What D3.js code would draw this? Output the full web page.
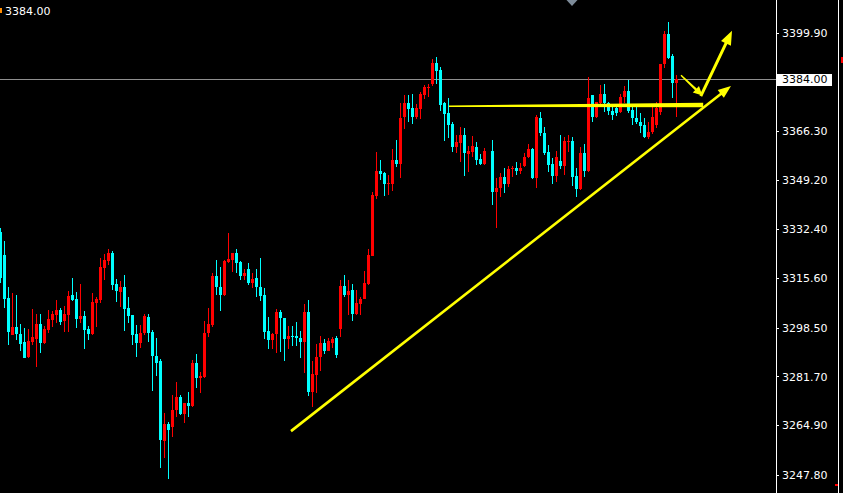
<!DOCTYPE html>
<html><head><meta charset="utf-8">
<script src="https://cdn.jsdelivr.net/npm/d3@7"></script>
<style>
html,body{margin:0;padding:0;background:#000;overflow:hidden;}
svg{display:block;}
</style></head>
<body>
<script>
// ---- data ----
const openVals = [3331.4,3323.5,3308.7,3296.0,3298.7,3296.3,3293.6,3288.4,3293.6,3294.6,3299.8,3293.2,3297.7,3301.1,3302.9,3304.6,3300.8,3302.9,3309.8,3308.4,3301.5,3302.5,3298.0,3296.3,3307.0,3308.0,3319.0,3321.4,3324.2,3313.5,3310.8,3312.5,3305.3,3302.9,3296.3,3293.2,3296.7,3302.2,3297.0,3288.8,3287.0,3259.5,3265.3,3264.3,3270.2,3274.6,3268.8,3272.6,3271.5,3286.3,3281.2,3281.5,3296.7,3299.4,3316.3,3312.5,3309.8,3321.1,3321.8,3324.2,3321.1,3316.3,3318.7,3313.9,3315.6,3312.5,3309.8,3297.4,3294.3,3296.3,3303.9,3301.8,3294.6,3295.6,3295.6,3294.9,3293.6,3303.9,3276.4,3282.2,3288.4,3293.2,3290.5,3293.2,3294.9,3298.0,3312.8,3309.8,3311.5,3303.2,3306.6,3308.4,3313.5,3323.2,3343.9,3352.4,3351.7,3347.9,3347.9,3356.2,3354.8,3371.0,3375.8,3374.1,3371.0,3373.8,3378.6,3381.0,3382.4,3389.6,3387.2,3375.8,3372.4,3368.6,3360.6,3362.1,3364.8,3358.3,3358.9,3360.6,3356.5,3354.8,null,3359.3,3345.2,3346.6,3350.4,3347.9,3353.1,3353.4,3352.4,3354.1,3357.2,3360.0,3350.0,3370.7,3365.5,3358.9,3354.8,3350.7,3355.9,3354.1,3362.4,3362.7,3350.7,3346.2,3358.6,3352.4,3378.6,3371.0,3375.8,3378.9,3375.8,3373.1,3374.1,3372.7,3377.9,3379.9,3373.4,3370.7,3369.3,3368.2,3364.1,3365.8,3368.2,3372.7,3389.2,3399.6,3392.0,3382.7];
const highVals = [3332.8,3328.3,3312.5,3310.4,3309.8,3299.8,3298.4,3298.0,3304.9,3303.2,3303.2,3299.1,3304.6,3304.2,3308.0,3305.3,3305.9,3311.1,3315.6,3310.8,3313.5,3304.2,3299.1,3310.4,3309.1,3322.5,3323.9,3325.6,3324.9,3315.3,3314.6,3316.6,3309.1,3302.9,3299.4,3299.4,3303.2,3303.2,3297.7,3294.9,3287.7,3269.1,3266.0,3275.3,3279.8,3275.3,3272.6,3276.4,3287.4,3289.4,3283.2,3300.8,3305.3,3317.3,3321.8,3319.4,3321.8,3331.1,3324.2,3325.6,3321.4,3318.7,3320.8,3317.3,3318.7,3322.5,3312.1,3302.2,3296.7,3304.9,3304.6,3301.8,3299.1,3299.1,3300.4,3297.4,3306.6,3308.0,3287.0,3292.9,3295.6,3294.6,3294.9,3295.3,3295.6,3314.9,3316.6,3314.9,3313.5,3311.5,3309.1,3318.0,3325.6,3345.2,3359.0,3356.2,3352.1,3351.0,3360.0,3363.1,3375.8,3378.6,3378.6,3378.9,3375.5,3379.6,3382.0,3382.4,3390.9,3391.6,3388.2,3376.2,3377.5,3369.3,3364.8,3367.6,3367.2,3361.0,3364.5,3362.4,3358.3,3360.3,null,3363.1,3350.0,3351.7,3353.4,3354.1,3354.1,3355.5,3355.2,3358.6,3361.7,3360.3,3371.7,3372.7,3367.6,3361.4,3356.9,3359.3,3364.8,3364.1,3364.8,3364.1,3353.4,3360.6,3361.7,3384.8,3378.6,3376.2,3382.0,3382.4,3376.2,3374.8,3375.1,3378.9,3381.7,3383.7,3375.5,3374.4,3372.4,3370.7,3369.3,3375.1,3376.2,3389.2,3400.6,3403.7,3392.7,3385.4];
const lowVals = [3313.9,3305.3,3292.5,3296.0,3294.3,3290.5,3287.9,3288.1,3292.5,3285.0,3289.8,3292.9,3296.7,3298.7,3300.1,3299.4,3297.0,3297.0,3307.7,3298.4,3300.1,3291.2,3294.3,3296.0,3298.7,3307.0,3314.9,3320.1,3311.5,3307.3,3305.6,3297.4,3300.1,3292.5,3288.4,3291.5,3296.0,3293.6,3276.7,3281.9,3250.2,3253.7,3246.4,3260.9,3267.8,3268.5,3265.7,3267.8,3271.3,3277.8,3276.0,3281.3,3295.3,3298.7,3309.8,3304.2,3309.4,3320.9,3317.7,3317.3,3314.9,3314.9,3313.2,3312.1,3309.1,3307.7,3294.6,3291.2,3291.2,3289.8,3290.1,3287.0,3291.2,3292.2,3292.2,3288.1,3282.9,3275.0,3271.2,3276.0,3283.6,3289.4,3290.3,3291.5,3288.1,3295.3,3309.1,3302.9,3300.8,3302.9,3302.9,3308.2,3313.3,3323.0,3342.8,3349.3,3343.9,3344.2,3345.5,3353.8,3350.0,3366.9,3369.3,3368.6,3370.3,3370.3,3377.2,3377.9,3381.7,3382.4,3373.1,3362.7,3363.8,3359.0,3358.6,3355.5,3350.7,3352.1,3357.2,3354.5,3354.5,3354.6,null,3340.7,3332.8,3343.5,3344.8,3346.9,3350.4,3351.0,3351.4,3353.9,3356.9,3349.7,3346.6,3364.5,3357.9,3352.1,3347.9,3348.6,3353.1,3351.0,3359.0,3347.2,3343.5,3346.0,3350.4,3352.2,3369.3,3370.7,3375.1,3372.7,3371.7,3370.0,3371.3,3372.4,3375.8,3372.4,3368.2,3368.6,3365.5,3363.8,3363.4,3365.2,3367.2,3371.7,3387.9,3390.9,3377.5,3371.0];
const closeVals = [3315.6,3308.4,3297.0,3298.7,3296.3,3292.9,3288.1,3293.9,3295.3,3299.8,3293.2,3298.0,3301.5,3303.2,3304.6,3300.4,3303.2,3309.4,3308.0,3301.5,3302.5,3297.7,3296.3,3307.3,3308.4,3319.4,3321.8,3324.2,3313.2,3311.1,3312.5,3304.9,3302.5,3296.0,3293.2,3296.7,3302.5,3296.7,3288.8,3286.3,3259.9,3265.3,3263.3,3270.2,3274.6,3268.8,3272.6,3271.5,3286.3,3281.2,3281.9,3296.7,3299.8,3316.3,3312.5,3309.8,3321.4,3322.1,3324.2,3320.8,3316.3,3317.3,3313.9,3315.3,3312.5,3309.4,3297.0,3294.3,3296.3,3303.9,3301.8,3294.6,3295.6,3295.3,3294.9,3293.6,3303.9,3276.4,3282.5,3288.4,3293.2,3290.5,3293.9,3294.6,3289.1,3312.8,3309.8,3311.1,3303.2,3307.0,3308.4,3313.9,3323.5,3344.2,3352.4,3351.4,3347.9,3348.3,3356.2,3354.8,3370.7,3375.8,3373.8,3371.0,3374.1,3378.9,3381.3,3381.3,3389.6,3386.8,3375.1,3372.0,3368.2,3360.6,3362.4,3364.8,3358.6,3359.3,3361.0,3356.2,3354.8,3359.3,null,3345.2,3346.6,3350.4,3347.9,3353.1,3353.4,3352.4,3353.4,3357.2,3360.0,3350.0,3371.0,3365.5,3358.6,3354.5,3350.7,3357.2,3354.1,3362.7,3362.7,3350.4,3346.2,3358.6,3352.4,3377.5,3371.0,3376.2,3378.9,3375.8,3373.1,3371.7,3372.4,3377.9,3379.9,3373.1,3370.7,3369.3,3367.9,3364.1,3365.8,3371.0,3374.1,3389.2,3399.6,3391.3,3382.7,3384.1];

const priceTicks = [3399.90, 3366.30, 3349.20, 3332.40, 3315.60, 3298.50, 3281.70, 3264.90, 3247.80];
const currentPrice = 3384.00;

// annotations: [bar index, price]
const trendLine = [[72.75, 3262.9], [182.75, 3381.7]];
const levelLine = [[112.25, 3374.7], [175.8, 3375.1]];
const smallArrow = [[170.25, 3385.4], [175.6, 3378.4]];
const upArrow = [[175.2, 3378.2], [183.0, 3400.7]];

// ---- layout ----
const W = 843, H = 493;
const axisX = 776;
const upColor = "#ff0000", downColor = "#00ffff";
const yellow = "#ffff00";

const svg = d3.select("body").append("svg").attr("width", W).attr("height", H)
  .style("background", "#000").attr("shape-rendering", "crispEdges");
svg.append("rect").attr("width", W).attr("height", H).attr("fill", "#000");

const x = d3.scaleLinear().domain([0, 194]).range([0, axisX]);
const y = d3.scaleLinear().domain([3247.8, 3399.9]).range([475, 33]);

const candles = openVals.map((o, i) => ({i, o, h: highVals[i], l: lowVals[i], c: closeVals[i]}))
  .filter(d => d.o !== null);

const plot = svg.append("g");

// current price line
plot.append("line")
  .attr("x1", 0).attr("x2", axisX)
  .attr("y1", Math.round(y(currentPrice)) + 0.5).attr("y2", Math.round(y(currentPrice)) + 0.5)
  .attr("stroke", "#8f8f8f").attr("stroke-width", 1);

const g = plot.selectAll("g.c").data(candles).join("g").attr("class", "c");
g.append("rect")
  .attr("x", d => Math.round(x(d.i)))
  .attr("width", 1)
  .attr("y", d => Math.round(y(d.h)))
  .attr("height", d => Math.max(1, Math.round(y(d.l)) - Math.round(y(d.h))))
  .attr("fill", d => d.c >= d.o ? upColor : downColor);
g.append("rect")
  .attr("x", d => Math.round(x(d.i)) - 1)
  .attr("width", 3)
  .attr("y", d => Math.round(y(Math.max(d.o, d.c))))
  .attr("height", d => Math.max(1, Math.round(y(Math.min(d.o, d.c))) - Math.round(y(Math.max(d.o, d.c)))))
  .attr("fill", d => d.c >= d.o ? upColor : downColor);

// arrows
function arrowPath(pts, w0, w1, headLen, headW) {
  const p0 = [x(pts[0][0]), y(pts[0][1])], p1 = [x(pts[1][0]), y(pts[1][1])];
  const dx = p1[0] - p0[0], dy = p1[1] - p0[1];
  const len = Math.hypot(dx, dy);
  const ux = dx / len, uy = dy / len, nx = -uy, ny = ux;
  const b = [p1[0] - ux * headLen, p1[1] - uy * headLen];
  const P = [];
  P.push([p0[0] + nx * w0 / 2, p0[1] + ny * w0 / 2]);
  P.push([b[0] + nx * w1 / 2, b[1] + ny * w1 / 2]);
  if (headLen > 0) {
    P.push([b[0] + nx * headW / 2, b[1] + ny * headW / 2]);
    P.push(p1);
    P.push([b[0] - nx * headW / 2, b[1] - ny * headW / 2]);
  }
  P.push([b[0] - nx * w1 / 2, b[1] - ny * w1 / 2]);
  P.push([p0[0] - nx * w0 / 2, p0[1] - ny * w0 / 2]);
  return "M" + P.map(p => p[0].toFixed(2) + "," + p[1].toFixed(2)).join("L") + "Z";
}
const ann = svg.append("g").attr("shape-rendering", "auto").attr("fill", yellow);
ann.append("path").attr("d", arrowPath(levelLine, 1.6, 4.5, 0, 0));
ann.append("path").attr("d", arrowPath(trendLine, 2.6, 2.6, 13, 10));
ann.append("path").attr("d", arrowPath(smallArrow, 1.4, 2.4, 9, 9));
ann.append("path").attr("d", arrowPath(upArrow, 3, 3, 14, 11));

// axis
svg.append("line").attr("x1", axisX + 0.5).attr("x2", axisX + 0.5).attr("y1", 0).attr("y2", H)
  .attr("stroke", "#ffffff");
const axisG = svg.append("g").attr("transform", `translate(${axisX},0)`)
  .call(d3.axisRight(y).tickValues(priceTicks).tickSize(3).tickPadding(3).tickFormat(d3.format(".2f")));
axisG.select(".domain").remove();
axisG.selectAll(".tick line").attr("stroke", "#ffffff");
axisG.selectAll(".tick text").attr("fill", "#ffffff")
  .style("font-family", "'DejaVu Sans', sans-serif").style("font-size", "11px");

// current price box
const cy = y(currentPrice);
svg.append("rect").attr("x", axisX + 1).attr("y", Math.round(cy) - 5).attr("width", 55).attr("height", 12)
  .attr("fill", "#ffffff");
svg.append("text").attr("x", axisX + 6).attr("y", cy).attr("dy", "0.36em")
  .attr("fill", "#000").style("font-family", "'DejaVu Sans', sans-serif").style("font-size", "11px")
  .text(d3.format(".2f")(currentPrice));

// top-left price
svg.append("rect").attr("x", 0).attr("y", 8).attr("width", 2).attr("height", 5).attr("fill", "#ff8c00");
svg.append("text").attr("x", 5).attr("y", 15)
  .attr("fill", "#ffffff").style("font-family", "'DejaVu Sans', sans-serif").style("font-size", "11px")
  .text(d3.format(".2f")(currentPrice));

// top marker triangle
svg.append("path").attr("d", "M566.5,0L577.5,0L572,6Z").attr("fill", "#7d8b99").attr("shape-rendering", "auto");

// right edge
svg.append("line").attr("x1", 838.5).attr("x2", 838.5).attr("y1", 0).attr("y2", H).attr("stroke", "#ffffff");
svg.append("rect").attr("x", 841).attr("y", 57).attr("width", 2).attr("height", 6).attr("fill", upColor);
svg.append("rect").attr("x", 835).attr("y", 484).attr("width", 3).attr("height", 2).attr("fill", upColor);
</script>
</body></html>
